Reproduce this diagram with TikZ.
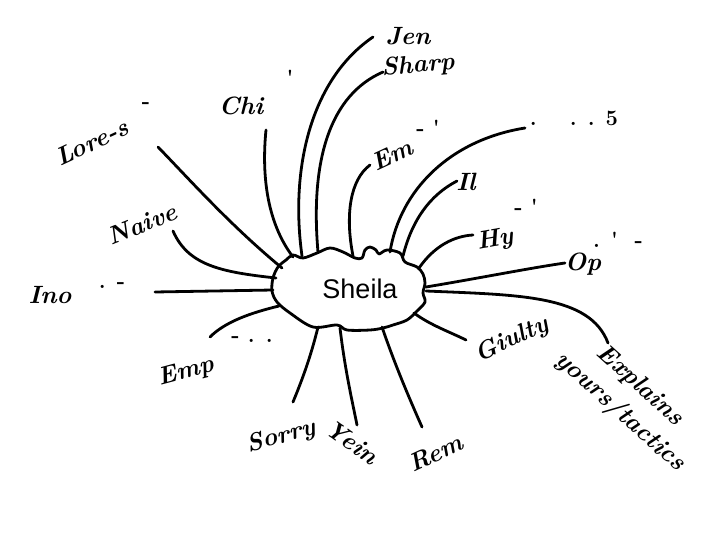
\documentclass[tikz,border=0pt]{standalone}
\usepackage{fontspec}
\newfontfamily\sheilafont{Liberation Sans}
\usetikzlibrary{calc,positioning}
\tikzset{
  ray/.style={line width=2.8pt, line cap=round},
  blob/.style={line width=2.8pt, line join=round},
  hand/.style={font=\fontsize{25}{27}\selectfont\bfseries\itshape, inner sep=0pt},
  squiggle/.style={font=\fontsize{22}{24}\selectfont\bfseries, inner sep=0pt}
}
\begin{document}
\begin{tikzpicture}[x=1pt,y=-1pt]
  \useasboundingbox (0,0) rectangle (720,540);
  % centre cloud
  \draw[blob] plot[smooth cycle, tension=0.55] coordinates {
    (293,255) (303,258) (317,253) (330,248) (343,252) (355,258) (362,258)
    (365,250) (370,247) (376,250) (379,254) (387,250) (400,253) (405,262)
    (417,267) (423,274) (425,283) (423,293) (425,302) (417,311) (407,320)
    (393,325) (383,328) (370,330) (347,330) (337,325) (313,327) (290,313)
    (277,302) (272,291) (273,278) (278,267) (286,260)};
  \node[font=\sheilafont\fontsize{27}{29}\selectfont] (sheila) at (360,289) {Sheila};

  % points on the cloud
  \coordinate (s-jen) at (302,256);
  \coordinate (s-sharp) at (318,252);
  \coordinate (s-chi) at (293,257);
  \coordinate (s-love) at (282,268);
  \coordinate (s-naive) at (276,278);
  \coordinate (s-ino) at (273,290);
  \coordinate (s-emp) at (279,306);
  \coordinate (s-sorry) at (318,327);
  \coordinate (s-yein) at (340,328);
  \coordinate (s-rem) at (382,327);
  \coordinate (s-guilty) at (414,313);
  \coordinate (s-expl) at (426,291);
  \coordinate (s-op) at (426,287);
  \coordinate (s-hy) at (419,268);
  \coordinate (s-il) at (403,256);
  \coordinate (s-five) at (390,252);
  \coordinate (s-em) at (353,256);

  % free ends near the words
  \coordinate (t-jen) at (373,37);
  \coordinate (t-sharp) at (383,72);
  \coordinate (t-chi) at (266,130);
  \coordinate (t-love) at (158,147);
  \coordinate (t-naive) at (173,231);
  \coordinate (t-ino) at (155,292);
  \coordinate (t-emp) at (210,337);
  \coordinate (t-sorry) at (293,402);
  \coordinate (t-yein) at (357,425);
  \coordinate (t-rem) at (422,427);
  \coordinate (t-guilty) at (466,340);
  \coordinate (t-expl) at (608,343);
  \coordinate (t-op) at (565,263);
  \coordinate (t-hy) at (473,235);
  \coordinate (t-il) at (457,181);
  \coordinate (t-five) at (525,128);
  \coordinate (t-em) at (370,165);

  % words
  \node[hand] (jen) at (408,36) {Jen};
  \node[hand, rotate=5] (sharp) at (418,66) {Sharp};
  \node[hand] (chi) at (241,106) {Chi};
  \node[squiggle] (chi-m) at (290,78) {\textquotesingle};
  \node[hand, rotate=25] (love) at (92,142) {Lore-s};
  \node[squiggle] (love-m) at (146,106) {-};
  \node[hand, rotate=22] (naive) at (142,224) {Naive};
  \node[hand] (ino) at (50,295) {Ino};
  \node[squiggle] (ino-m) at (112,286) {. -};
  \node[hand, rotate=15] (emp) at (186,372) {Emp};
  \node[squiggle] (emp-m) at (252,340) {- . .};
  \node[hand, rotate=15] (sorry) at (281,437) {Sorry};
  \node[hand, rotate=-35] (yein) at (352,442) {Yein};
  \node[hand, rotate=25] (rem) at (436,453) {Rem};
  \node[hand, rotate=25] (guilty) at (512,340) {Giulty};
  \node[hand, rotate=-42] (expl) at (640,386) {Explains};
  \node[hand, rotate=-42] (expl2) at (620,412) {yours/tactics};
  \node[hand] (op) at (583,264) {Op};
  \node[squiggle] (op-m) at (618,240) {. \textquotesingle\ \ -};
  \node[hand, rotate=10] (hy) at (495,240) {Hy};
  \node[squiggle] (hy-m) at (526,207) {- \textquotesingle};
  \node[hand] (il) at (466,182) {Il};
  \node[squiggle] (five) at (574,118) {. \quad . . 5};
  \node[hand, rotate=25] (em) at (392,155) {Em};
  \node[squiggle] (em-m) at (428,128) {- \textquotesingle};

  % connectors
  \draw[ray] (s-jen) .. controls (290,170) and (310,80) .. (t-jen);
  \draw[ray] (s-sharp) .. controls (310,160) and (330,95) .. (t-sharp);
  \draw[ray] (s-chi) .. controls (265,220) and (262,170) .. (t-chi);
  \draw[ray] (s-love) .. controls (230,225) and (190,180) .. (t-love);
  \draw[ray] (s-naive) .. controls (220,272) and (188,265) .. (t-naive);
  \draw[ray] (s-ino) -- (t-ino);
  \draw[ray] (s-emp) .. controls (250,313) and (225,322) .. (t-emp);
  \draw[ray] (s-sorry) .. controls (310,360) and (300,385) .. (t-sorry);
  \draw[ray] (s-yein) .. controls (345,370) and (352,400) .. (t-yein);
  \draw[ray] (s-rem) .. controls (395,365) and (410,400) .. (t-rem);
  \draw[ray] (s-guilty) .. controls (430,325) and (450,332) .. (t-guilty);
  \draw[ray] (s-expl) .. controls (520,295) and (590,295) .. (t-expl);
  \draw[ray] (s-op) .. controls (480,278) and (530,268) .. (t-op);
  \draw[ray] (s-hy) .. controls (435,245) and (455,236) .. (t-hy);
  \draw[ray] (s-il) .. controls (412,220) and (430,195) .. (t-il);
  \draw[ray] (s-five) .. controls (400,190) and (450,140) .. (t-five);
  \draw[ray] (s-em) .. controls (345,215) and (350,180) .. (t-em);
\end{tikzpicture}
\end{document}
